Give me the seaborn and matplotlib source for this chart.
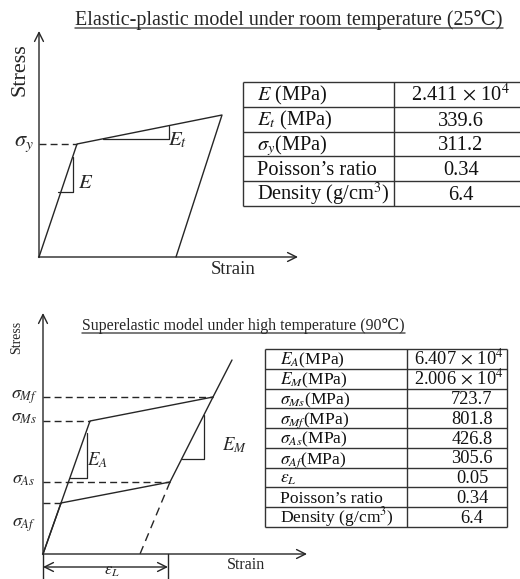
import matplotlib
matplotlib.use("Agg")
import matplotlib.pyplot as plt
import seaborn as sns

sns.set_theme(style="white")
plt.rcParams['font.family'] = ['Liberation Serif', 'DejaVu Serif']
plt.rcParams['mathtext.fontset'] = 'stix'

INK = '#262626'

# ---------------- data (schematic units) ----------------
# Elastic-plastic model
ep_strain = [0, 38, 183, 137]
ep_stress = [0, 113, 142, 0]
ep_sigma_y = 113
ep_yield_strain = 38

# Superelastic model
se_load_strain = [0, 47, 170, 189]
se_load_stress = [0, 133, 157, 194]
se_unload_strain = [170, 127, 18, 0]
se_unload_stress = [157, 72, 51, 0]
se_resid_strain = [127, 97]
se_resid_stress = [72, 0]
se_level_stress = [157, 133, 72, 51]
se_level_strain = [170, 47, 127, 18]
se_eps_L = 125

# Tables
ep_params = ['$E$ (MPa)', '$E_t$ (MPa)', r'$\sigma_y$(MPa)', 'Poisson\u2019s ratio', 'Density (g/cm$^3$)']
ep_values = [r'2.411$\,\times\,$10$^4$', '339.6', '311.2', '0.34', '6.4']

se_params = ['$E_A$(MPa)', '$E_M$(MPa)', r'$\sigma_{Ms}$(MPa)', r'$\sigma_{Mf}$(MPa)',
             r'$\sigma_{As}$(MPa)', r'$\sigma_{Af}$(MPa)', r'$\varepsilon_L$',
             'Poisson\u2019s ratio', 'Density (g/cm$^3$)']
se_values = [r'6.407$\,\times\,$10$^4$', r'2.006$\,\times\,$10$^4$', '723.7', '801.8', '426.8',
             '305.6', '0.05', '0.34', '6.4']

W, H = 520, 579
fig = plt.figure(figsize=(W / 100, H / 100), dpi=100)
fig.patch.set_facecolor('white')

ov = fig.add_axes([0, 0, 1, 1])
ov.set_xlim(0, W)
ov.set_ylim(H, 0)
ov.axis('off')
ov.patch.set_alpha(0)


def px_axes(left, top, right, bottom):
    a = fig.add_axes([left / W, 1 - bottom / H, (right - left) / W, (bottom - top) / H])
    a.axis('off')
    a.patch.set_alpha(0)
    return a


dash = (0, (5, 3))
LW = 1.0

# ---------------- top diagram ----------------
ax1 = px_axes(34, 25, 305, 262)
ax1.set_xlim(-5, 266)
ax1.set_ylim(-5, 232)
sns.lineplot(x=ep_strain, y=ep_stress, sort=False, estimator=None, color=INK, lw=LW, ax=ax1)
ax1.plot([0, ep_yield_strain], [ep_sigma_y, ep_sigma_y], ls=dash, color=INK, lw=LW)
# slope triangles
ax1.plot([19, 34, 34], [65, 65, 100], color=INK, lw=0.9)
ax1.plot([64, 130, 130], [118, 118, 131], color=INK, lw=0.9)
arw = dict(arrowstyle='->', color=INK, lw=LW, mutation_scale=16, shrinkA=0, shrinkB=0)
ax1.annotate('', xy=(0, 226), xytext=(0, -0.5), arrowprops=arw)
ax1.annotate('', xy=(259, 0), xytext=(-0.5, 0), arrowprops=arw)

# ---------------- bottom diagram ----------------
ax2 = px_axes(38, 305, 312, 579)
ax2.set_xlim(-5, 269)
ax2.set_ylim(-25, 249)
sns.lineplot(x=se_load_strain, y=se_load_stress, sort=False, estimator=None, color=INK, lw=LW, ax=ax2)
sns.lineplot(x=se_unload_strain, y=se_unload_stress, sort=False, estimator=None, color=INK, lw=LW, ax=ax2)
ax2.plot(se_resid_strain, se_resid_stress, ls=(0, (6, 4)), color=INK, lw=LW)
for s, e in zip(se_level_stress, se_level_strain):
    ax2.plot([0, e], [s, s], ls=dash, color=INK, lw=LW)
ax2.plot([27, 44, 44], [76, 76, 121], color=INK, lw=0.9)
ax2.plot([139, 161, 161], [95, 95, 139], color=INK, lw=0.9)
ax2.annotate('', xy=(0, 241), xytext=(0, -0.5), arrowprops=arw)
ax2.annotate('', xy=(264, 0), xytext=(-0.5, 0), arrowprops=arw)
ax2.plot([0, 0], [0, -26], color=INK, lw=LW, clip_on=False)
ax2.plot([se_eps_L, se_eps_L], [0, -26], color=INK, lw=LW, clip_on=False)
ax2.annotate('', xy=(0, -13), xytext=(se_eps_L, -13),
             arrowprops=dict(arrowstyle='<->', color=INK, lw=LW, mutation_scale=16, shrinkA=0, shrinkB=0))
for a in (ax1, ax2):
    for ln in a.lines:
        ln.set_clip_on(False)

# ---------------- labels ----------------
ov.text(20, 70, 'Stress', rotation=90, ha='center', va='center', fontsize=16, color=INK)
ov.text(233, 269, 'Strain', ha='center', va='center', fontsize=13.5, color=INK)
ov.text(24, 144, r'$\sigma_y$', ha='center', va='center', fontsize=16, color=INK)
ov.text(86, 183, '$E$', ha='center', va='center', fontsize=15, color=INK)
ov.text(178, 140, '$E_t$', ha='center', va='center', fontsize=15, color=INK)

ov.text(17, 337, 'Stress', rotation=90, ha='center', va='center', fontsize=10, color=INK)
ov.text(246, 565, 'Strain', ha='center', va='center', fontsize=11.5, color=INK)
for lab, yy in zip([r'$\sigma_{Mf}$', r'$\sigma_{Ms}$', r'$\sigma_{As}$', r'$\sigma_{Af}$'],
                   [397, 418, 480, 525]):
    ov.text(24, yy, lab, ha='center', va='center', fontsize=13, color=INK)
ov.text(97, 460, '$E_A$', ha='center', va='center', fontsize=13.5, color=INK)
ov.text(234, 445, '$E_M$', ha='center', va='center', fontsize=13.5, color=INK)
ov.text(112, 571, r'$\varepsilon_L$', ha='center', va='center', fontsize=12, color=INK)

# titles (fit to measured widths, underlined)
t1 = ov.text(289, 25, 'Elastic-plastic model under room temperature (25\u2103)',
             ha='center', va='baseline', fontsize=14.4, color=INK)
t2 = ov.text(243.5, 329.5, 'Superelastic model under high temperature (90\u2103)',
             ha='center', va='baseline', fontsize=11.5, color=INK)
renderer = fig.canvas.get_renderer()


def fit(t, target):
    for _ in range(3):
        bb = t.get_window_extent(renderer)
        t.set_fontsize(t.get_fontsize() * target / bb.width)


fit(t1, 426)
fit(t2, 321)
for t, uy in ((t1, 28), (t2, 332.5)):
    bb = t.get_window_extent(renderer)
    ov.plot([bb.x0, bb.x1], [uy, uy], color='#555555', lw=1.1)

# ---------------- tables ----------------


def draw_table(params, values, left, mid, right, top, bottom, fs, fsv, pad, vcenter, base_off):
    n = len(params)
    rh = (bottom - top) / n
    for i in range(n + 1):
        y = top + i * rh
        ov.plot([left, right], [y, y], color='#333333', lw=1.0, solid_capstyle='butt')
    for x in (left, mid, right):
        ov.plot([x, x], [top, bottom], color='#333333', lw=1.0, solid_capstyle='butt')
    for i, (p, v) in enumerate(zip(params, values)):
        yc = top + (i + 0.5) * rh + base_off
        ov.text(left + pad, yc, p, ha='left', va='baseline', fontsize=fs, color='#111111')
        tv = ov.text(vcenter, yc, v, ha='center', va='baseline', fontsize=fsv, color='#111111')
        bb = tv.get_window_extent(renderer)
        if bb.x1 > min(right, W) - 3:
            tv.set_x(vcenter - (bb.x1 - (min(right, W) - 3)))


draw_table(ep_params, ep_values, 243, 394, 522, 82, 206, 14.7, 14.7, 14, 461, 6.5)
draw_table(se_params, se_values, 265, 407, 507, 349, 527, 12.6, 13.2, 15, 472, 5.5)

fig.savefig('out.png', dpi=100, facecolor='white')
